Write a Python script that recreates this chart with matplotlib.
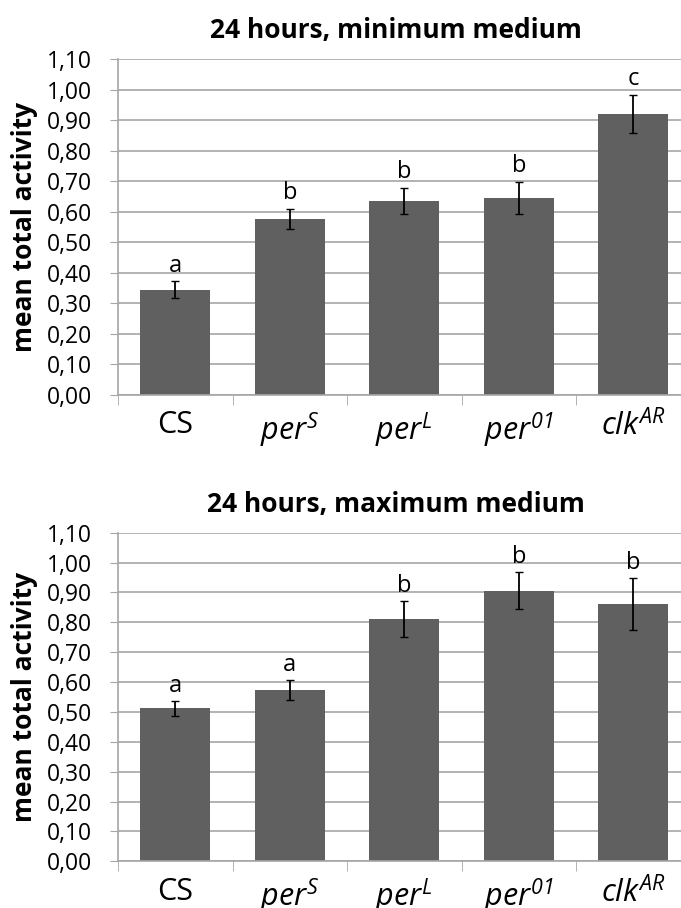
import matplotlib
matplotlib.use("Agg")
from matplotlib import pyplot as plt
import numpy as np

plt.rcParams["font.family"] = ["Open Sans", "DejaVu Sans"]
# genotype labels are all italic, digits included
plt.rcParams["mathtext.fontset"] = "custom"
plt.rcParams["mathtext.it"] = "Open Sans:italic"
plt.rcParams["mathtext.rm"] = "Open Sans:italic"

strains = ["CS", r"$per^{S}$", r"$per^{L}$", r"$per^{01}$", r"$clk^{AR}$"]

min_means = [0.344, 0.576, 0.636, 0.646, 0.921]
min_err = [0.028, 0.033, 0.043, 0.052, 0.062]
min_groups = ["a", "b", "b", "b", "c"]

max_means = [0.512, 0.573, 0.810, 0.905, 0.860]
max_err = [0.024, 0.033, 0.060, 0.062, 0.087]
max_groups = ["a", "a", "b", "b", "b"]

BAR_COLOR = "#606060"
GRID_COLOR = "#a6a6a6"


def draw_panel(ax, means, errs, groups, title):
    x = np.arange(len(strains))
    ax.bar(x, means, width=0.61, color=BAR_COLOR, zorder=2)
    ax.errorbar(x, means, yerr=errs, fmt="none", ecolor="black",
                elinewidth=1.3, capsize=3, capthick=1.0, zorder=3)
    for xi, m, e, g in zip(x, means, errs, groups):
        ax.text(xi, m + e + 0.012, g, ha="center", va="bottom", fontsize=17)

    ax.set_xlim(-0.5, 4.5)
    ax.set_ylim(0, 1.10)
    yt = np.arange(0, 1.101, 0.1)
    ax.set_yticks(yt)
    ax.set_yticklabels([f"{v:.2f}".replace(".", ",") for v in yt], fontsize=16.5)
    ax.set_xticks(x)
    ax.set_xticklabels(strains, fontsize=22)
    ax.set_xticks(np.arange(-0.5, 5, 1), minor=True)
    ax.tick_params(axis="x", which="major", length=0, pad=11)
    ax.tick_params(axis="x", which="minor", length=7, color=GRID_COLOR)
    ax.tick_params(axis="y", length=6, color=GRID_COLOR, pad=13)

    ax.yaxis.grid(True, color=GRID_COLOR, linewidth=1.2, zorder=0)
    ax.set_axisbelow(True)
    for side in ["top", "right"]:
        ax.spines[side].set_visible(False)
    for side in ["left", "bottom"]:
        ax.spines[side].set_color(GRID_COLOR)
        ax.spines[side].set_linewidth(1.2)

    ax.set_ylabel("mean total activity", fontsize=19, fontweight="bold")
    ax.yaxis.set_label_coords(-0.14, 0.5)
    ax.set_title(title, fontsize=19, fontweight="bold", pad=15, x=0.485)


fig = plt.figure(figsize=(6.81, 9.08), dpi=100)
ax_top = fig.add_axes([0.1733, 0.565, 0.8407, 0.370])
ax_bot = fig.add_axes([0.1733, 0.0514, 0.8407, 0.3619])

draw_panel(ax_top, min_means, min_err, min_groups, "24 hours, minimum medium")
draw_panel(ax_bot, max_means, max_err, max_groups, "24 hours, maximum medium")

fig.savefig("out.png", dpi=100)
